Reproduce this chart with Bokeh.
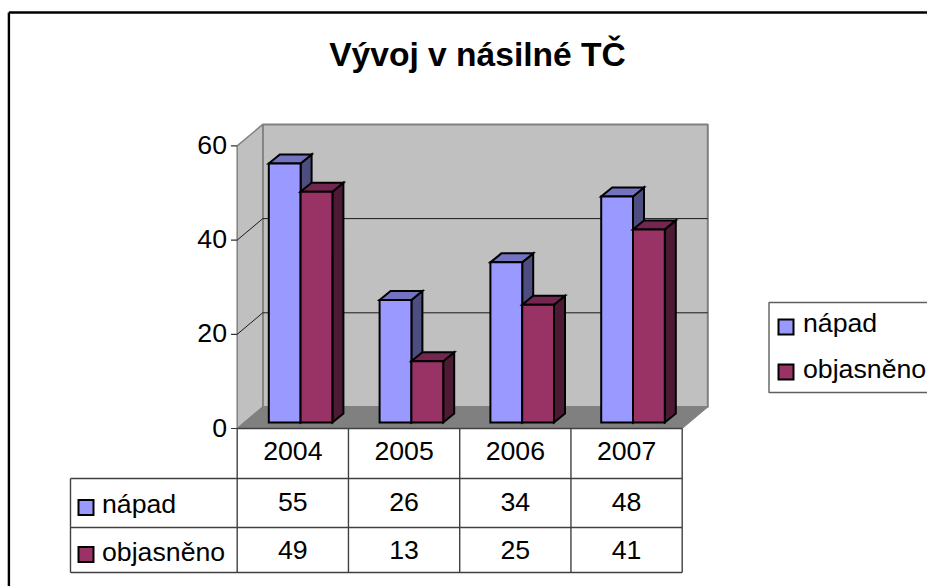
from bokeh.core.properties import value
from bokeh.embed import file_html
from bokeh.models import Range1d
from bokeh.plotting import figure
from bokeh.resources import INLINE

title = "Vývoj v násilné TČ"
categories = ["2004", "2005", "2006", "2007"]
series_names = ["nápad", "objasněno"]
napad = [55, 26, 34, 48]
objasneno = [49, 13, 25, 41]
y_ticks = [0, 20, 40, 60]

FRONT = ["#9999FF", "#993366"]
TOP = ["#7373BF", "#732650"]
SIDE = ["#4D4D80", "#4D1A33"]
FONT = value("Liberation Sans")

# Screen geometry of the picture; the figure's scales map categories and values onto it.
W, H = 927, 586
X0, CAT_W = 236.7, 111.25      # front plane: px of category 0, px per category
Y0, UNIT = 428.0, 4.71         # front plane: px of value 0, px per unit
TXT = 9.4                      # baseline to mid-height of the 26.7px text


def X(px):
    return (px - X0) / CAT_W


def Y(py):
    return (Y0 - py) / UNIT


p = figure(width=W, height=H, output_backend="svg", toolbar_location=None,
           x_range=Range1d(X(0), X(W)), y_range=Range1d(Y(H), Y(0)),
           x_axis_location=None, y_axis_location=None, min_border=0,
           outline_line_color=None, background_fill_color="white",
           border_fill_color="white")
p.grid.visible = False

# chart area frame (top and left edges are in view)
p.segment(x0=[X(8.4), X(8.4)], y0=[Y(12), Y(12)], x1=[X(8.4), X(930)], y1=[Y(590), Y(12)],
          line_color="black", line_width=2.4)

# walls
DX, DY = 25.6 / CAT_W, 21.5 / UNIT
n = len(categories)
top_v = y_ticks[-1]
p.quad(left=[DX], right=[n + DX], bottom=[DY], top=[top_v + DY],
       fill_color="#C0C0C0", line_color="#808080", line_width=2)
p.patch(x=[0, DX, DX, 0], y=[0, DY, top_v + DY, top_v],
        fill_color="#C0C0C0", line_color="#808080", line_width=1.5)
p.patch(x=[0, DX, n + DX, n], y=[0, DY, DY, 0],
        fill_color="#808080", line_color="#808080", line_width=1)

# gridlines: along the left wall and the back wall
grid = [t for t in y_ticks if 0 < t < top_v]
p.multi_line(xs=[[0, DX, n + DX] for _ in grid],
             ys=[[t, t + DY, t + DY] for t in grid],
             line_color="#1a1a1a", line_width=1)

# bars
BAR_W = 31.8 / CAT_W
BAR_X = 31.6 / CAT_W
BAR_STEP = 110.8 / CAT_W
BAR_BASE = 6.0 / UNIT
BAR_DX, BAR_DY = 11.0 / CAT_W, 9.0 / UNIT
for s, vals in enumerate([napad, objasneno]):
    lefts = [i * BAR_STEP + BAR_X + s * BAR_W for i in range(n)]
    rights = [l + BAR_W for l in lefts]
    tops = [BAR_BASE + v for v in vals]
    bar_line = dict(line_color="black", line_width=2, line_join="miter")
    p.patches(xs=[[r, r + BAR_DX, r + BAR_DX, r] for r in rights],
              ys=[[BAR_BASE, BAR_BASE + BAR_DY, t + BAR_DY, t] for t in tops],
              fill_color=SIDE[s], **bar_line)
    p.patches(xs=[[l, r, r + BAR_DX, l + BAR_DX] for l, r in zip(lefts, rights)],
              ys=[[t, t, t + BAR_DY, t + BAR_DY] for t in tops],
              fill_color=TOP[s], **bar_line)
    p.quad(left=lefts, right=rights, bottom=[BAR_BASE] * n, top=tops,
           fill_color=FRONT[s], **bar_line)

# value axis: ticks and labels
p.segment(x0=[X(230.5)] * len(y_ticks), x1=[0] * len(y_ticks), y0=y_ticks, y1=y_ticks,
          line_color="#333333", line_width=1.2)
p.text(x=[X(226.5)] * len(y_ticks), y=y_ticks, text=[str(t) for t in y_ticks],
       text_font=FONT, text_font_size="26.7px", text_color="black",
       text_align="right", text_baseline="middle", y_offset=-1)

# data table
ROWS = [Y(478), Y(527), Y(572)]
TABLE_L = X(70)
p.multi_line(xs=[[0, n], [TABLE_L, n], [TABLE_L, n], [TABLE_L, n]],
             ys=[[0, 0], [ROWS[0], ROWS[0]], [ROWS[1], ROWS[1]], [ROWS[2], ROWS[2]]],
             line_color="#404040", line_width=1.4)
p.multi_line(xs=[[i, i] for i in range(n + 1)] + [[TABLE_L, TABLE_L]],
             ys=[[0, ROWS[2]] for _ in range(n + 1)] + [[ROWS[0], ROWS[2]]],
             line_color="#404040", line_width=1.4)
centers = [i + 0.5 for i in range(n)]
p.text(x=centers, y=[Y(460 - TXT)] * n, text=categories, text_font=FONT, text_font_size="26.7px",
       text_color="black", text_align="center", text_baseline="middle")
for vals, py in zip([napad, objasneno], [511, 558.5]):
    p.text(x=centers, y=[Y(py - TXT)] * n, text=[str(v) for v in vals], text_font=FONT,
           text_font_size="26.7px", text_color="black", text_align="center",
           text_baseline="middle")

swatch_line = dict(line_color="black", line_width=2, line_join="miter")
# table keys
p.quad(left=[X(78)] * 2, right=[X(93)] * 2, top=[Y(499.5), Y(546.5)], bottom=[Y(514.5), Y(561.5)],
       fill_color=FRONT, **swatch_line)
p.text(x=[X(101.5)] * 2, y=[Y(512.5 - TXT), Y(561 - TXT)], text=series_names, text_font=FONT,
       text_font_size="26.7px", text_color="black", text_align="left",
       text_baseline="middle")

# legend
p.quad(left=[X(768.5)], right=[X(940)], top=[Y(302)], bottom=[Y(392)],
       fill_color="white", line_color="#606060", line_width=1.4)
p.quad(left=[X(778)] * 2, right=[X(793)] * 2, top=[Y(319), Y(364)], bottom=[Y(334), Y(379)],
       fill_color=FRONT, **swatch_line)
p.text(x=[X(802.5)] * 2, y=[Y(332 - TXT), Y(377.5 - TXT)], text=series_names, text_font=FONT,
       text_font_size="26.7px", text_color="black", text_align="left",
       text_baseline="middle")

# title
p.text(x=[X(477)], y=[Y(54)], text=[title], text_font=FONT, text_font_size="33.6px",
       text_font_style="bold", text_color="black", text_align="center",
       text_baseline="middle")

open("out.html", "w").write(file_html(p, INLINE))
